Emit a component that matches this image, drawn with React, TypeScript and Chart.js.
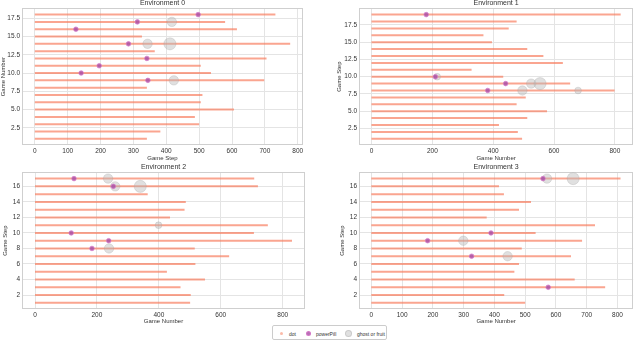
import React, { useEffect, useRef } from "react";
import { Chart, registerables } from "chart.js";

Chart.register(...registerables);

const FONT = "'Liberation Sans', Arial, sans-serif";

// ---------- Environment 0 (games 1..18) ----------
const env0Lengths = [341, 382, 500, 487, 606, 505, 510, 341, 698, 536, 505, 705, 365, 777, 326, 615, 579, 732];
const env0PillGames = [9, 10, 11, 12, 14, 16, 17, 18];
const env0PillSteps = [344, 141, 196, 341, 285, 125, 312, 497];
const env0GhostGames = [9, 14, 14, 17];
const env0GhostSteps = [423, 343, 411, 417];
const env0GhostCounts = [2, 2, 3, 2];

// ---------- Environment 1 (games 1..19) ----------
const env1Lengths = [495, 481, 419, 512, 577, 477, 507, 799, 653, 433, 329, 629, 565, 512, 396, 368, 451, 477, 819];
const env1PillGames = [8, 9, 10, 19];
const env1PillSteps = [382, 441, 210, 180];
const env1GhostGames = [8, 8, 9, 9, 10];
const env1GhostSteps = [496, 679, 525, 554, 216];
const env1GhostCounts = [2, 1, 2, 3, 1];

// ---------- Environment 2 (games 1..17) ----------
const env2Lengths = [501, 503, 470, 549, 426, 518, 627, 516, 830, 707, 752, 436, 483, 487, 364, 720, 708];
const env2PillGames = [8, 9, 10, 16, 17];
const env2PillSteps = [184, 238, 117, 253, 126];
const env2GhostGames = [8, 11, 16, 16, 17];
const env2GhostSteps = [239, 399, 259, 340, 236];
const env2GhostCounts = [2, 1, 2, 3, 2];

// ---------- Environment 3 (games 1..17) ----------
const env3Lengths = [500, 432, 760, 661, 465, 480, 649, 489, 685, 534, 727, 375, 480, 519, 431, 415, 810];
const env3PillGames = [3, 7, 9, 10, 17];
const env3PillSteps = [575, 326, 183, 389, 558];
const env3GhostGames = [7, 9, 17, 17];
const env3GhostSteps = [443, 299, 571, 656];
const env3GhostCounts = [2, 2, 2, 3];

// ---------- Tick labels ----------
const ticksX100 = [0, 100, 200, 300, 400, 500, 600, 700, 800];
const ticksX200 = [0, 200, 400, 600, 800];
const ticksYHalf = [2.5, 5.0, 7.5, 10.0, 12.5, 15.0, 17.5];
const ticksYEven = [2, 4, 6, 8, 10, 12, 14, 16];

const LINE_COLOR = "rgba(248,118,86,0.66)";
const PILL_FILL = "rgba(165,75,165,0.8)";
const PILL_EDGE = "rgba(215,120,200,0.85)";
const GHOST_FILL = "rgba(180,180,180,0.42)";
const GHOST_EDGE = "rgba(160,160,160,0.35)";
const TEXT = "#333333";
const GRID = "#e4e4e4";
const SPINE = "#cfcfcf";

const framePlugin = {
  id: "frame",
  beforeDatasetsDraw(chart: any) {
    const { ctx, chartArea } = chart;
    ctx.save();
    ctx.strokeStyle = SPINE;
    ctx.lineWidth = 1;
    ctx.strokeRect(
      Math.round(chartArea.left) + 0.5,
      Math.round(chartArea.top) + 0.5,
      Math.round(chartArea.right - chartArea.left) - 1,
      Math.round(chartArea.bottom - chartArea.top) - 1
    );
    ctx.restore();
  },
};

type PanelProps = {
  title: string;
  lengths: number[];
  pillGames: number[];
  pillSteps: number[];
  ghostGames: number[];
  ghostSteps: number[];
  ghostCounts: number[];
  xTicks: number[];
  yTicks: number[];
  yDecimals: boolean;
  xLabel: string;
  yLabel: string;
  xMin: number;
  xMax: number;
  yMin: number;
  yMax: number;
  left: number;
  top: number;
  width: number;
  height: number;
  yAxisWidth: number;
  rightPad: number;
  yTitlePad: number;
  xTitlePad: number;
};

function Panel(p: PanelProps) {
  const ref = useRef<HTMLCanvasElement | null>(null);
  useEffect(() => {
    if (!ref.current) return;
    const datasets: any[] = [];
    datasets.push({
      label: "powerPill",
      data: p.pillGames.map((g, i) => ({ x: p.pillSteps[i], y: g })),
      pointRadius: 2.3,
      pointBackgroundColor: PILL_FILL,
      pointBorderColor: PILL_EDGE,
      pointBorderWidth: 0.8,
      showLine: false,
      order: 0,
    });
    datasets.push({
      label: "ghost or fruit",
      data: p.ghostGames.map((g, i) => ({ x: p.ghostSteps[i], y: g })),
      pointRadius: p.ghostCounts.map((c) => 2 + 1.35 * c),
      pointBackgroundColor: GHOST_FILL,
      pointBorderColor: GHOST_EDGE,
      pointBorderWidth: 0.8,
      showLine: false,
      order: 1,
    });
    p.lengths.forEach((len, i) => {
      datasets.push({
        label: "dot",
        data: [
          { x: 0, y: i + 1 },
          { x: len, y: i + 1 },
        ],
        showLine: true,
        borderColor: LINE_COLOR,
        borderWidth: 2,
        pointRadius: 0,
        order: 2,
      });
    });

    const chart = new Chart(ref.current, {
      type: "scatter",
      data: { datasets },
      plugins: [framePlugin],
      options: {
        animation: false,
        responsive: false,
        devicePixelRatio: 1,
        events: [],
        layout: { padding: { left: 0, right: p.rightPad, top: 0, bottom: 0 } },
        plugins: {
          legend: { display: false },
          tooltip: { enabled: false },
          title: {
            display: true,
            text: p.title,
            fullSize: false,
            color: TEXT,
            font: { family: FONT, size: 7, weight: "normal" },
            padding: { top: 1, bottom: 1 },
          },
        },
        scales: {
          x: {
            type: "linear",
            min: p.xMin,
            max: p.xMax,
            afterBuildTicks: (s: any) => {
              s.ticks = p.xTicks.map((v) => ({ value: v }));
            },
            afterFit: (s: any) => {
              s.height = 20;
            },
            grid: { color: GRID, lineWidth: 1, drawTicks: false },
            border: { display: false },
            ticks: {
              padding: 2,
              color: TEXT,
              autoSkip: false,
              maxRotation: 0,
              font: { family: FONT, size: 6.5 },
              callback: (v: any) => String(v),
            },
            title: {
              display: true,
              text: p.xLabel,
              color: TEXT,
              font: { family: FONT, size: 6 },
              padding: { top: 0, bottom: p.xTitlePad },
            },
          },
          y: {
            type: "linear",
            min: p.yMin,
            max: p.yMax,
            afterBuildTicks: (s: any) => {
              s.ticks = p.yTicks.map((v) => ({ value: v }));
            },
            afterFit: (s: any) => {
              s.width = p.yAxisWidth;
            },
            grid: { color: GRID, lineWidth: 1, drawTicks: false },
            border: { display: false },
            ticks: {
              padding: 2,
              color: TEXT,
              autoSkip: false,
              font: { family: FONT, size: 6.5 },
              callback: (v: any) => (p.yDecimals ? Number(v).toFixed(1) : String(v)),
            },
            title: {
              display: true,
              text: p.yLabel,
              color: TEXT,
              font: { family: FONT, size: 6 },
              padding: { top: p.yTitlePad, bottom: 0 },
            },
          },
        },
      } as any,
    });
    return () => chart.destroy();
  }, []);
  return (
    <canvas
      ref={ref}
      width={p.width}
      height={p.height}
      style={{ position: "absolute", left: p.left, top: p.top, width: p.width, height: p.height }}
    />
  );
}

function Legend() {
  const item = (left: number, size: number, color: string, border: string) => (
    <div
      style={{
        position: "absolute",
        left: left - size / 2,
        top: 7.5 - size / 2,
        width: size,
        height: size,
        borderRadius: "50%",
        background: color,
        boxSizing: "border-box",
        border: border,
      }}
    />
  );
  const label = (left: number, text: string) => (
    <span
      style={{
        position: "absolute",
        left,
        top: 4.5,
        fontFamily: FONT,
        fontSize: 5,
        lineHeight: "6px",
        color: TEXT,
        whiteSpace: "nowrap",
      }}
    >
      {text}
    </span>
  );
  return (
    <div
      style={{
        position: "absolute",
        left: 272,
        top: 325,
        width: 115,
        height: 15,
        border: "1px solid #cccccc",
        borderRadius: 2,
        boxSizing: "border-box",
        background: "#fff",
      }}
    >
      {item(8, 3, "rgba(248,140,110,0.6)", "none")}
      {label(16, "dot")}
      {item(35, 5, PILL_FILL, "0.8px solid " + PILL_EDGE)}
      {label(43, "powerPill")}
      {item(75, 7, GHOST_FILL, "0.8px solid " + GHOST_EDGE)}
      {label(84, "ghost or fruit")}
    </div>
  );
}

export default function App() {
  return (
    <div
      style={{
        position: "fixed",
        left: 0,
        top: 0,
        width: 640,
        height: 341,
        background: "#fff",
        overflow: "hidden",
      }}
    >
      <Panel
        title="Environment 0"
        lengths={env0Lengths}
        pillGames={env0PillGames}
        pillSteps={env0PillSteps}
        ghostGames={env0GhostGames}
        ghostSteps={env0GhostSteps}
        ghostCounts={env0GhostCounts}
        xTicks={ticksX100}
        yTicks={ticksYHalf}
        yDecimals={true}
        xLabel="Game Step"
        yLabel="Game Number"
        xMin={-39}
        xMax={816}
        yMin={0.15}
        yMax={18.85}
        left={0}
        top={-2}
        width={320}
        height={167}
        yAxisWidth={22}
        rightPad={17}
        yTitlePad={0}
        xTitlePad={3}
      />
      <Panel
        title="Environment 1"
        lengths={env1Lengths}
        pillGames={env1PillGames}
        pillSteps={env1PillSteps}
        ghostGames={env1GhostGames}
        ghostSteps={env1GhostSteps}
        ghostCounts={env1GhostCounts}
        xTicks={ticksX200}
        yTicks={ticksYHalf}
        yDecimals={true}
        xLabel="Game Number"
        yLabel="Game Step"
        xMin={-41}
        xMax={860}
        yMin={0.1}
        yMax={19.9}
        left={336}
        top={-2}
        width={304}
        height={167}
        yAxisWidth={23}
        rightPad={2}
        yTitlePad={0}
        xTitlePad={3}
      />
      <Panel
        title="Environment 2"
        lengths={env2Lengths}
        pillGames={env2PillGames}
        pillSteps={env2PillSteps}
        ghostGames={env2GhostGames}
        ghostSteps={env2GhostSteps}
        ghostCounts={env2GhostCounts}
        xTicks={ticksX200}
        yTicks={ticksYEven}
        yDecimals={false}
        xLabel="Game Number"
        yLabel="Game Step"
        xMin={-42}
        xMax={872}
        yMin={0.2}
        yMax={17.8}
        left={2}
        top={162}
        width={318}
        height={167}
        yAxisWidth={20}
        rightPad={15}
        yTitlePad={0}
        xTitlePad={4}
      />
      <Panel
        title="Environment 3"
        lengths={env3Lengths}
        pillGames={env3PillGames}
        pillSteps={env3PillSteps}
        ghostGames={env3GhostGames}
        ghostSteps={env3GhostSteps}
        ghostCounts={env3GhostCounts}
        xTicks={ticksX100}
        yTicks={ticksYEven}
        yDecimals={false}
        xLabel="Game Number"
        yLabel="Game Step"
        xMin={-40}
        xMax={851}
        yMin={0.2}
        yMax={17.8}
        left={338}
        top={162}
        width={302}
        height={167}
        yAxisWidth={21}
        rightPad={2}
        yTitlePad={1}
        xTitlePad={4}
      />
      <Legend />
    </div>
  );
}
